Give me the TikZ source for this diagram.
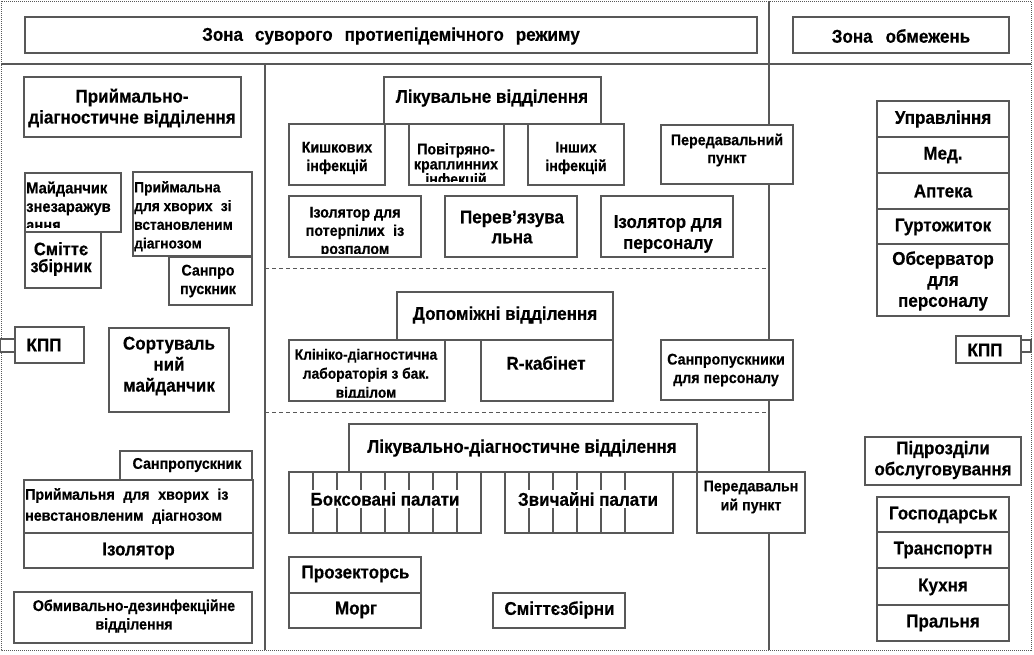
\documentclass[tikz,border=0pt]{standalone}
\usepackage{fontspec}
\setmainfont{Liberation Sans}[FakeStretch=0.92, BoldFeatures={FakeBold=0.4}]
\definecolor{lc}{RGB}{88,88,88}
\newcommand\bx[5]{\node[box,anchor=north west,minimum width={(#4-#2)*1pt},minimum height={(#5-#3)*1pt}] (#1) at (#2,#3) {};}
\newcommand\dsp{\hspace{0.55em}}
\tikzset{
  box/.style={draw=lc, fill=white, line width=1.3pt, inner sep=0pt, outer sep=0pt},
  tB/.style={font=\bfseries\fontsize{18.5}{21}\selectfont, align=center, inner sep=0pt},
  tM/.style={font=\bfseries\fontsize{15.5}{18.5}\selectfont, align=center, inner sep=0pt},
  zone/.style={draw=lc, line width=1.3pt},
  zdash/.style={draw=lc, line width=1pt, dash pattern=on 4pt off 3pt},
  border/.style={draw=lc, line width=0.8pt, dash pattern=on 1pt off 1pt},
  cell/.style={draw=lc, line width=1.1pt},
}
\begin{document}
\begin{tikzpicture}[x=1pt,y=-1pt]
\useasboundingbox (0,0) rectangle (1034,654);
\fill[white] (0,0) rectangle (1034,654);
\draw[border] (1,1) rectangle (1031,650);
% zone lines
\draw[zone] (1,64) -- (1031,64);
\draw[zone] (265,64) -- (265,650);
\draw[zone] (769,1) -- (769,650);
\draw[zdash] (265,268) -- (769,268);
\draw[zdash] (265,412) -- (769,412);

% ===== titles
\bx{top}{25}{17}{757}{53}
\node[tB] (topt) at (391,36) {Зона\hspace{12pt}суворого\hspace{12pt}протиепідемічного\hspace{12pt}режиму};
\bx{zobm}{793}{17}{1009}{53}
\node[tB] (zobmt) at (901,36) {Зона\hspace{13pt}обмежень};

% ===== left column
\bx{prdv}{24}{77}{241}{137}
\node[tB] (prdvt) at (132,108) {Приймально-\\діагностичне відділення};
\bx{smit}{25}{232}{101}{288}
\node[tB, font=\bfseries\fontsize{18}{17}\selectfont] (smitt) at (61,259) {Сміттє\\збірник};
\bx{mayd}{25}{173}{121}{232}
\begin{scope}
\clip (26,174) rectangle (120,227);
\node[tM, align=left, anchor=north west, font=\bfseries\fontsize{16}{18.5}\selectfont] (maydt) at (26,181.3) {Майданчик\\знезаражув\\ання};
\end{scope}
\bx{pryim}{133}{172}{252}{256}
\node[tM, align=left, anchor=north west, font=\bfseries\fontsize{15}{18.7}\selectfont] (pryimt) at (134,181) {Приймальна\\для хворих\dsp зі\\встановленим\\діагнозом};
\bx{sanpro}{169}{257}{252}{305}
\node[tM] (sanprot) at (208,281) {Санпро\\пускник};
\bx{gate1}{0}{339}{15}{352}
\bx{kpp1}{15}{327}{84}{363}
\node[tB] (kpp1t) at (44,345) {КПП};
\bx{sort}{109}{328}{229}{412}
\node[tB] (sortt) at (169,366) {Сортуваль\\ний\\майданчик};
\bx{sanp2}{120}{451}{252}{480}
\node[tM] (sanp2t) at (187,465) {Санпропускник};
\bx{pryimn}{24}{480}{253}{533}
\node[tM, align=left, anchor=north west, font=\bfseries\fontsize{15.5}{21}\selectfont] (pryimnt) at (25,488) {Приймальня\dsp для\dsp хворих\dsp із\\невстановленим\dsp діагнозом};
\bx{izol}{24}{533}{253}{568}
\node[tB] (izolt) at (138.5,551) {Ізолятор};
\bx{obmyv}{14}{592}{252}{643}
\node[tM] (obmyvt) at (134,616) {Обмивально-дезинфекційне\\відділення};

% ===== middle: Лікувальне відділення
\bx{likv}{384}{77}{601}{124}
\node[tB] (likvt) at (492,98) {Лікувальне відділення};
\bx{kish}{289}{124}{385}{185}
\node[tM] (kisht) at (337,158) {Кишкових\\інфекцій};
\bx{povit}{409}{124}{504}{185}
\begin{scope}
\clip (410,125) rectangle (503,181);
\node[tM, anchor=north, font=\bfseries\fontsize{15.5}{15}\selectfont] (povitt) at (456,143) {Повітряно-\\краплинних\\інфекцій};
\end{scope}
\bx{insh}{528}{124}{624}{185}
\node[tM] (insht) at (576,158) {Інших\\інфекцій};
\bx{pered1}{661}{125}{793}{184}
\node[tM, font=\bfseries\fontsize{15.5}{18}\selectfont] (pered1t) at (727,150) {Передавальний\\пункт};
\bx{izpot}{289}{196}{421}{257}
\begin{scope}
\clip (290,197) rectangle (420,253);
\node[tM, anchor=north, font=\bfseries\fontsize{15.5}{18.3}\selectfont] (izpott) at (355,206.7) {Ізолятор для\\потерпілих\dsp із\\розпалом};
\end{scope}
\bx{perev}{445}{196}{577}{257}
\node[tB, font=\bfseries\fontsize{18.5}{20}\selectfont] (perevt) at (512,227) {Перев’язува\\льна};
\bx{izper}{601}{196}{733}{257}
\node[tB] (izpert) at (668,234) {Ізолятор для\\персоналу};

% ===== middle: Допоміжні
\bx{dopom}{397}{292}{613}{340}
\node[tB] (dopomt) at (505,315) {Допоміжні відділення};
\bx{klin}{289}{340}{445}{401}
\begin{scope}
\clip (290,341) rectangle (444,397);
\node[tM, anchor=north, font=\bfseries\fontsize{15}{19}\selectfont] (klint) at (366,348.6) {Клініко-діагностична\\лабораторія з бак.\\відділом};
\end{scope}
\bx{rkab}{481}{340}{613}{401}
\node[tB] (rkabt) at (546,363) {R-кабінет};
\bx{sanper}{661}{340}{793}{400}
\node[tM] (sanpert) at (726,370) {Санпропускники\\для персоналу};

% ===== middle: Лікувально-діагностичне
\bx{likdiag}{349}{424}{697}{472}
\node[tB] (likdiagt) at (522,448) {Лікувально-діагностичне відділення};
\bx{boks}{289}{472}{481}{533}
\foreach \i in {1,...,7} \draw[cell] ({289+24*\i},472) -- ({289+24*\i},533);
\node[tB, fill=white, inner ysep=2pt] (bokst) at (385,499) {Боксовані палати};
\bx{zvych}{505}{472}{673}{533}
\foreach \xx in {529,553,577,601,625} \draw[cell] (\xx,472) -- (\xx,533);
\node[tB, fill=white, inner ysep=2pt] (zvycht) at (588,499) {Звичайні палати};
\bx{pered2}{697}{472}{805}{533}
\node[tM, font=\bfseries\fontsize{15.5}{19}\selectfont] (pered2t) at (751,497) {Передавальн\\ий пункт};
\bx{proz}{289}{557}{421}{593}
\node[tB] (prozt) at (355.5,574) {Прозекторсь};
\bx{morg}{289}{593}{421}{628}
\node[tB] (morgt) at (356,610) {Морг};
\bx{smitz}{493}{593}{625}{628}
\node[tB] (smitzt) at (559.5,610) {Сміттєзбірни};

% ===== right column
\bx{upr}{877}{101}{1009}{137}
\node[tB] (uprt) at (943,119) {Управління};
\bx{med}{877}{137}{1009}{173}
\node[tB] (medt) at (943,155) {Мед.};
\bx{apt}{877}{173}{1009}{209}
\node[tB] (aptt) at (943,191) {Аптека};
\bx{gurt}{877}{209}{1009}{244}
\node[tB] (gurtt) at (943,227) {Гуртожиток};
\bx{obs}{877}{244}{1009}{316}
\node[tB] (obst) at (943,281) {Обсерватор\\для\\персоналу};
\bx{gate2}{1021}{340}{1031}{352}
\bx{kpp2}{956}{336}{1021}{363}
\node[tB] (kpp2t) at (985,350) {КПП};
\bx{pidr}{865}{437}{1021}{485}
\node[tB] (pidrt) at (943,460) {Підрозділи\\обслуговування};
\bx{gosp}{877}{497}{1009}{532}
\node[tB] (gospt) at (943,515) {Господарськ};
\bx{trans}{877}{532}{1009}{568}
\node[tB] (transt) at (943,550) {Транспортн};
\bx{kukh}{877}{568}{1009}{605}
\node[tB] (kukht) at (943,587) {Кухня};
\bx{pral}{877}{605}{1009}{641}
\node[tB] (pralt) at (943,623) {Пральня};
\end{tikzpicture}
\end{document}
